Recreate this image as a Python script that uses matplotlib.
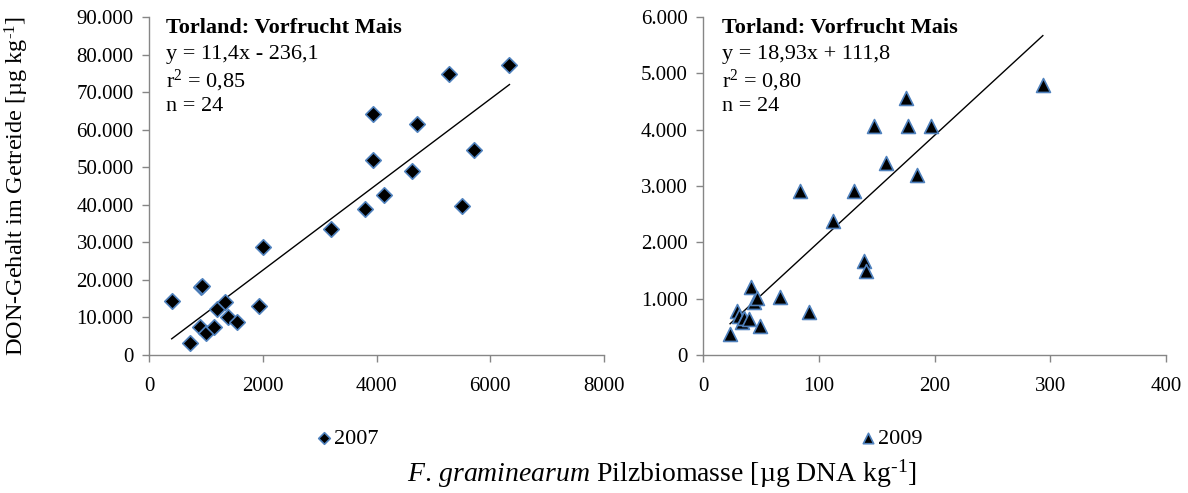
import numpy as np
import matplotlib
matplotlib.use("Agg")
import matplotlib.pyplot as plt
from matplotlib.ticker import FuncFormatter

plt.rcParams["font.family"] = ["Liberation Serif", "DejaVu Serif"]
plt.rcParams["mathtext.fontset"] = "custom"
plt.rcParams["mathtext.rm"] = "Liberation Serif"
plt.rcParams["mathtext.it"] = "Liberation Serif:italic"
plt.rcParams["mathtext.bf"] = "Liberation Serif:bold"

# ── data ─────────────────────────────────────────────────────────────────────
# 2007: F. graminearum biomass [µg DNA/kg] vs DON [µg/kg]
x_2007 = [399, 721, 909, 927, 897, 1002, 1143, 1190, 1336, 1395, 1542, 1934,
          2011, 3196, 3806, 3947, 3930, 4139, 4626, 4709, 5283, 5512, 5717, 6338]
y_2007 = [14360, 3100, 18000, 18500, 7370, 5800, 7540, 12160, 14030, 10200, 8870, 13050,
          28800, 33430, 39000, 64280, 52000, 42730, 49020, 61440, 74910, 39630, 54520, 77130]

# 2009
x_2009 = [23.4, 29.5, 31.5, 34.0, 35.5, 40.0, 41.2, 43.8, 47.0, 49.3, 66.5, 83.4,
          91.8, 112.2, 130.7, 138.8, 140.5, 147.6, 158.0, 175.2, 176.8, 184.9, 196.9, 293.6]
y_2009 = [372, 780, 700, 580, 650, 640, 1200, 946, 1005, 514, 1034, 2914,
          757, 2382, 2914, 1667, 1490, 4067, 3411, 4569, 4067, 3198, 4067, 4788]

# trendlines as stated in the chart
fit_2007 = (11.4, -236.1)
fit_2009 = (18.93, 111.8)

title_txt = "Torland: Vorfrucht Mais"
stats_2007 = ["y = 11,4x - 236,1", "r$^2$ = 0,85", "n = 24"]
stats_2009 = ["y = 18,93x + 111,8", "r$^2$ = 0,80", "n = 24"]

EDGE = "#4F81BD"
GREY = "#868686"


def de_thousands(v, pos):
    return f"{int(round(v)):,}".replace(",", ".")


def style_axis(ax, xlim, ylim, xticks, yticks):
    ax.set_xlim(*xlim)
    ax.set_ylim(*ylim)
    ax.set_xticks(xticks)
    ax.set_yticks(yticks)
    ax.yaxis.set_major_formatter(FuncFormatter(de_thousands))
    ax.xaxis.set_major_formatter(FuncFormatter(lambda v, p: f"{int(v)}"))
    for s in ("top", "right"):
        ax.spines[s].set_visible(False)
    for s in ("left", "bottom"):
        ax.spines[s].set_color(GREY)
        ax.spines[s].set_linewidth(1.0)
    ax.tick_params(direction="out", length=5, width=1.0, color=GREY,
                   labelsize=15, pad=6)
    ax.tick_params(axis="x", pad=11)


def annotate(ax, x_px, stats):
    ax.text(x_px, 0.966, title_txt, transform=ax.transAxes, fontsize=16,
            fontweight="bold", va="center", ha="left")
    for i, s in enumerate(stats):
        ax.text(x_px, 0.966 - 0.077 * (i + 1), s, transform=ax.transAxes,
                fontsize=16, va="center", ha="left")


fig = plt.figure(figsize=(11.88, 4.93), dpi=100)
ax1 = fig.add_axes([149 / 1188, 1 - 355 / 493, 455 / 1188, 338 / 493])
ax2 = fig.add_axes([703 / 1188, 1 - 355 / 493, 463 / 1188, 338 / 493])

# left panel – 2007
ax1.scatter(x_2007, y_2007, marker="D", s=62, color="black",
            edgecolor=EDGE, linewidth=1.2, zorder=3, label="2007")
xl = np.array([min(x_2007), max(x_2007)])
ax1.plot(xl, fit_2007[0] * xl + fit_2007[1], color="black", lw=1.0, zorder=2)
style_axis(ax1, (0, 8000), (0, 90000), [0, 2000, 4000, 6000, 8000],
           np.arange(0, 90001, 10000))
annotate(ax1, 0.037, stats_2007)

# right panel – 2009
ax2.scatter(x_2009, y_2009, marker="^", s=100, color="black",
            edgecolor=EDGE, linewidth=1.2, zorder=3, label="2009")
xr = np.array([min(x_2009), max(x_2009)])
ax2.plot(xr, fit_2009[0] * xr + fit_2009[1], color="black", lw=1.0, zorder=2)
style_axis(ax2, (0, 400), (0, 6000), [0, 100, 200, 300, 400],
           np.arange(0, 6001, 1000))
annotate(ax2, 0.042, stats_2009)

# legends below each panel
for ax, xc in ((ax1, 348 / 1188), (ax2, 892 / 1188)):
    ax.legend(loc="center", bbox_to_anchor=(xc, 1 - 439 / 493),
              bbox_transform=fig.transFigure, frameon=False, fontsize=16,
              handlelength=0.6, handletextpad=0.15, borderpad=0,
              markerscale=0.75)

fig.text(17 / 1188, 1 - 186 / 493, r"DON-Gehalt im Getreide [µg kg$^{\text{-1}}$]",
         rotation=90, ha="center", va="center", fontsize=17.5)
fig.text(662 / 1188, 1 - 474 / 493,
         r"$\mathit{F.\,graminearum}$ Pilzbiomasse [µg DNA kg$^{\text{-1}}$]",
         ha="center", va="center", fontsize=20)

fig.savefig("out.png", dpi=100)
